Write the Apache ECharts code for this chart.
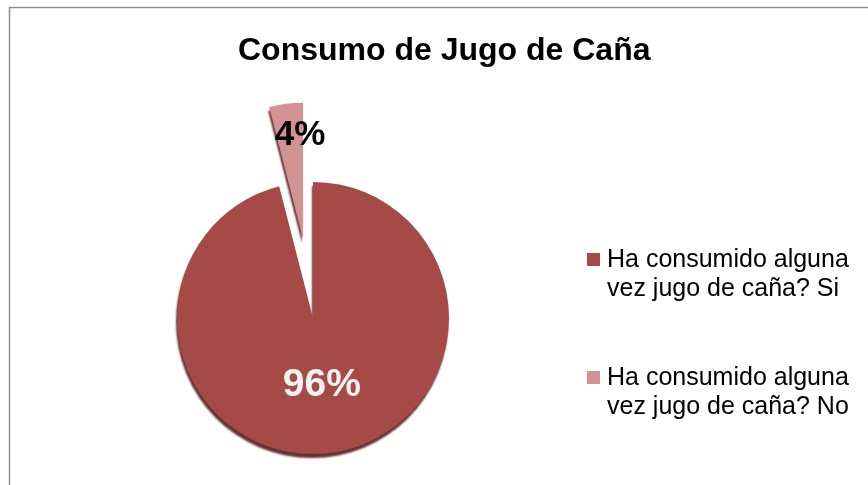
<!DOCTYPE html>
<html>
<head>
<meta charset="utf-8">
<script src="https://cdn.jsdelivr.net/npm/echarts@6/dist/echarts.min.js"></script>
<style>
html,body{margin:0;padding:0;background:#fff;}
#c{width:868px;height:485px;}
</style>
</head>
<body>
<div id="c"></div>
<script>
const titleText = 'Consumo de Jugo de Caña';
const categories = ['Ha consumido alguna vez jugo de caña? Si', 'Ha consumido alguna vez jugo de caña? No'];
const values = [96, 4];
const colors = ['#A64A48', '#D29292'];

const chart = echarts.init(document.getElementById('c'), null, {renderer: 'canvas'});
const data = categories.map((name, i) => ({
  name: name,
  value: values[i],
  selected: i === 1,
  itemStyle: {color: colors[i]},
  label: i === 1
    ? {color: '#000000', fontSize: 35}
    : {color: '#F2F2F2', fontSize: 39}
}));

chart.setOption({
  animation: false,
  backgroundColor: '#ffffff',
  graphic: [{
    type: 'rect',
    shape: {x: 9.5, y: 7.5, width: 900, height: 500},
    style: {fill: 'none', stroke: '#8f8f8f', lineWidth: 1.5},
    silent: true
  }],
  title: {
    text: titleText,
    left: 238,
    top: 35,
    padding: 0,
    textStyle: {fontFamily: 'Liberation Sans, Arial, sans-serif', fontWeight: 'bold', fontSize: 32, color: '#000'}
  },
  legend: {
    orient: 'vertical',
    left: 587,
    top: 246,
    padding: 0,
    itemWidth: 13,
    itemHeight: 58,
    itemGap: 60,
    selectedMode: false,
    icon: 'path://M0,0h0.01v0.01h-0.01z M0,7h13v13h-13z M0,58h0.01v0.01h-0.01z',
    formatter: name => name.replace(' vez', '\nvez'),
    textStyle: {fontFamily: 'Liberation Sans, Arial, sans-serif', fontSize: 25, lineHeight: 29, color: '#000', padding: [0, 0, 0, 2]},
    data: categories
  },
  series: [{
    type: 'pie',
    center: [313, 318],
    radius: [0, 136],
    startAngle: 90,
    clockwise: true,
    selectedMode: 'single',
    selectedOffset: 80,
    avoidLabelOverlap: false,
    data: data,
    itemStyle: {
      borderWidth: 0,
      shadowColor: 'rgba(70,15,15,0.85)',
      shadowBlur: 2,
      shadowOffsetX: -1,
      shadowOffsetY: 4
    },
    label: {
      show: true,
      position: 'inside',
      formatter: p => p.value + '%',
      fontFamily: 'Liberation Sans, Arial, sans-serif',
      fontWeight: 'bold'
    },
    labelLine: {show: false},
    labelLayout: function (params) {
      if (params.dataIndex === 1) {
        return {dx: 6, dy: -33};
      }
      return {dy: -3};
    },
    emphasis: {disabled: true}
  }]
});
</script>
</body>
</html>
